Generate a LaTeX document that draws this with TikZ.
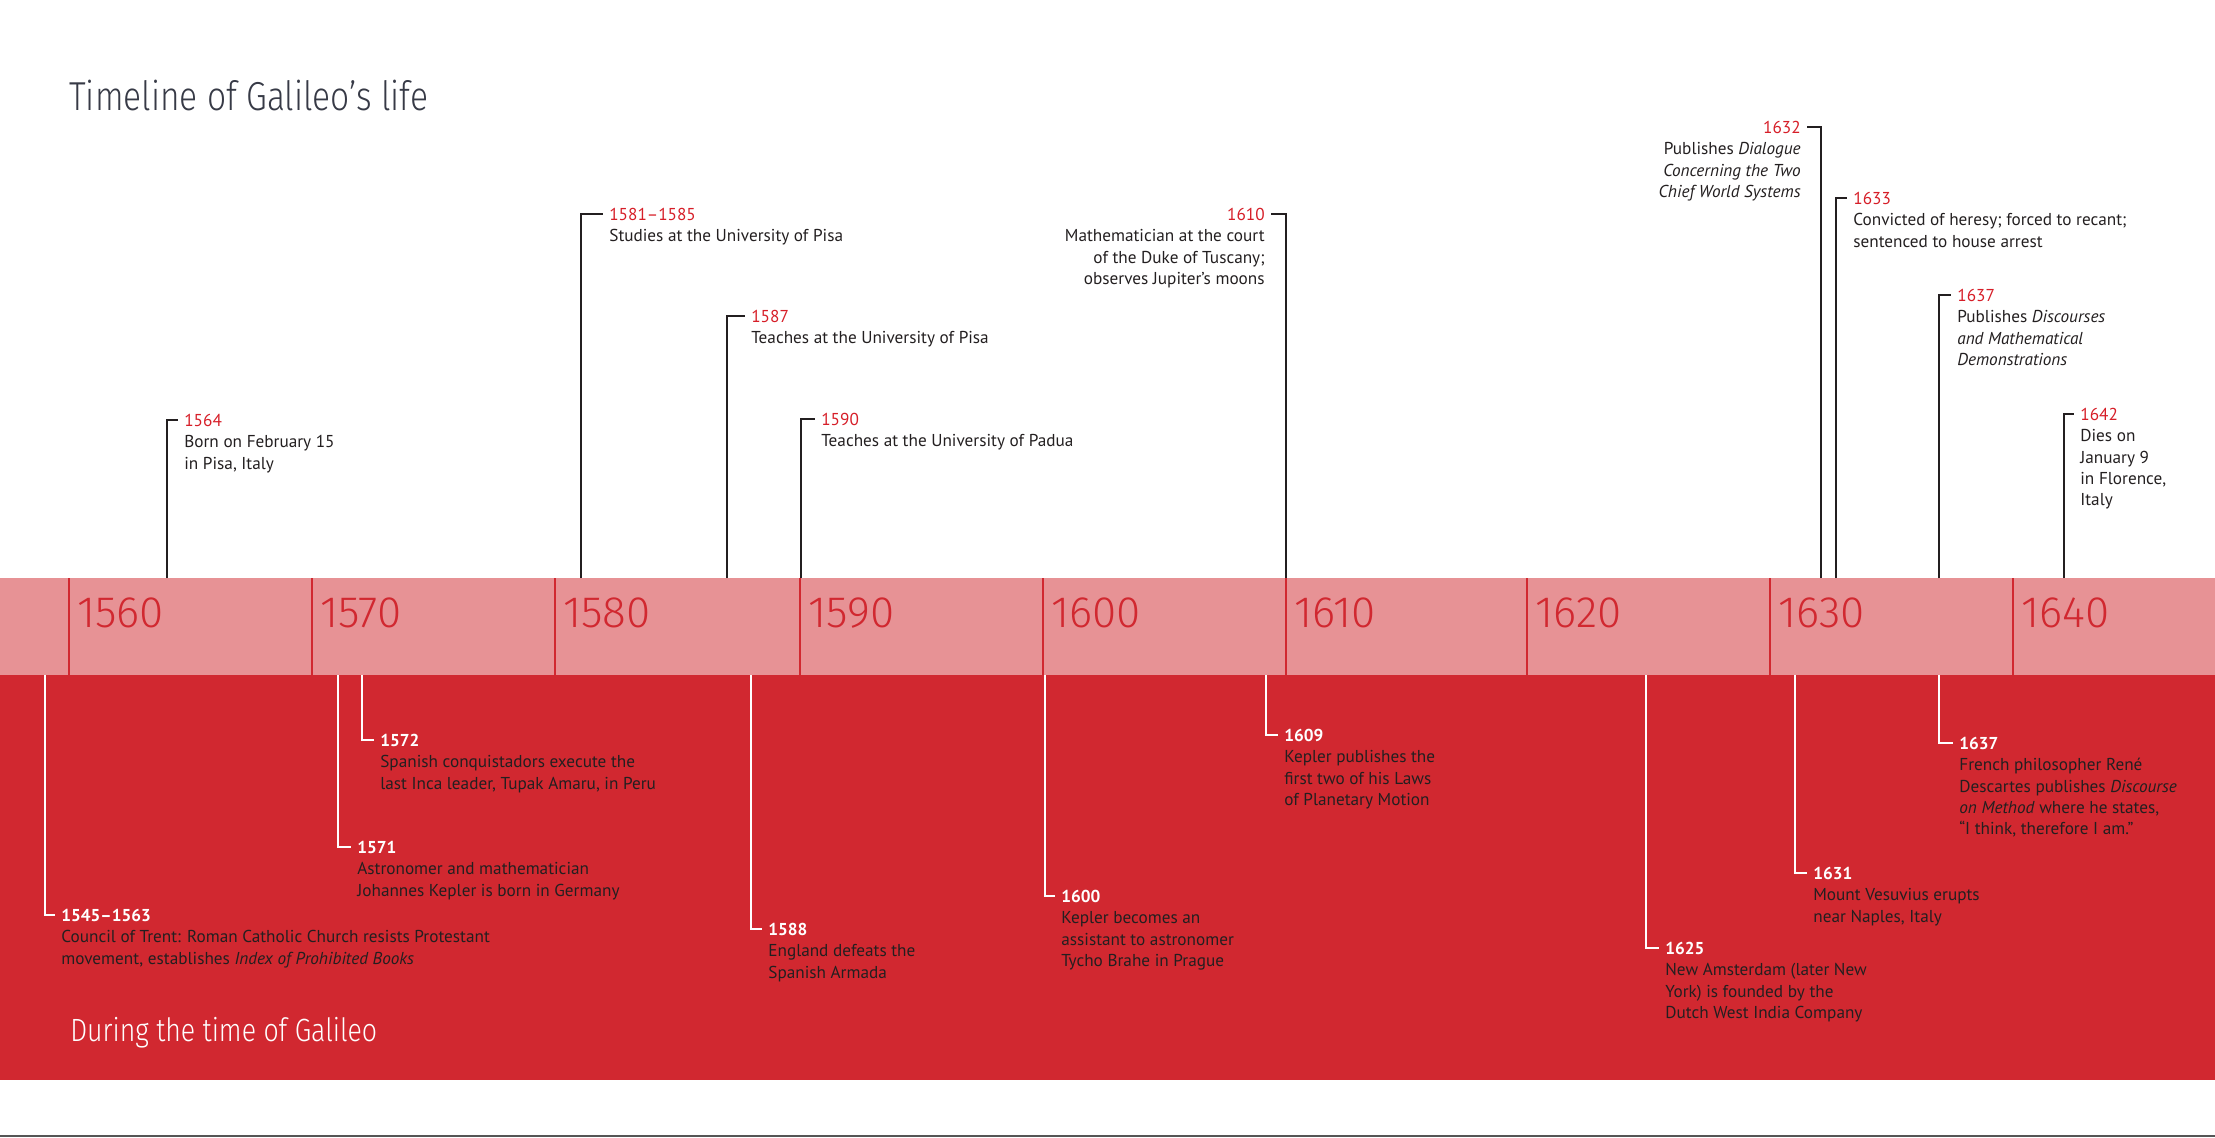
\documentclass[tikz,border=0pt]{standalone}
\usepackage{fontspec}
\setmainfont{PT Sans}
\newfontfamily\titlefont{Fira Sans Light}[FakeStretch=0.83]
\newfontfamily\decfont{Fira Sans Light}
\usepackage{xcolor}
\usepackage{tikz}
\usetikzlibrary{positioning}
\definecolor{bandpink}{RGB}{231,146,149}
\definecolor{fieldred}{RGB}{209,40,48}
\definecolor{yearred}{RGB}{214,30,40}
\definecolor{ink}{RGB}{35,31,32}
\definecolor{titlegray}{RGB}{55,58,70}
\definecolor{rulegray}{RGB}{85,85,85}
\newcommand{\evfont}{\fontsize{9.8}{12.1}\selectfont}
\tikzset{
  evyear/.style={inner sep=0pt, font=\evfont},
  yrup/.style={evyear, text=yearred, anchor=west},
  yrupl/.style={evyear, text=yearred, anchor=east},
  yrdown/.style={evyear, font=\evfont\bfseries, text=white, anchor=west},
  evtext/.style={inner sep=0pt, font=\evfont, text=ink, align=left},
  evtextl/.style={evtext, align=right},
  leadup/.style={draw=ink, line width=0.7pt, shorten >=0.12cm},
  leaddown/.style={draw=white, line width=0.7pt, shorten >=0.12cm},
  decade/.style={font=\decfont\fontsize{25}{25}\selectfont, text=fieldred,
                 inner sep=0pt, anchor=base west},
  decsep/.style={draw=fieldred, line width=0.9pt},
  headline/.style={font=\titlefont\fontsize{23}{23}\selectfont, inner sep=0pt,
                   anchor=base west},
}

\begin{document}
\begin{tikzpicture}[x=0.02cm, y=-0.02cm]
  \useasboundingbox (0,0) rectangle (2215,1137);
  % bands
  \fill[bandpink] (0,578) rectangle (2215,675);
  \fill[fieldred] (0,675) rectangle (2215,1080);
  \draw[rulegray, line width=1.1pt] (0,1136) -- (2215,1136);

  \node[headline, text=titlegray] (title) at (69,110) {Timeline of Galileo’s life};
  \node[headline, text=white, font=\titlefont\fontsize{18.3}{18.3}\selectfont] (world) at (70,1041) {During the time of Galileo};

  % decades
  \draw[decsep] (69,578) -- (69,675);
  \draw[decsep] (312,578) -- (312,675);
  \draw[decsep] (555,578) -- (555,675);
  \draw[decsep] (800,578) -- (800,675);
  \draw[decsep] (1043,578) -- (1043,675);
  \draw[decsep] (1286,578) -- (1286,675);
  \draw[decsep] (1527,578) -- (1527,675);
  \draw[decsep] (1770,578) -- (1770,675);
  \draw[decsep] (2013,578) -- (2013,675);
  \node[decade] (d1560) at (77,627) {1560};
  \node[decade] (d1570) at (320,627) {1570};
  \node[decade] (d1580) at (563,627) {1580};
  \node[decade] (d1590) at (808,627) {1590};
  \node[decade] (d1600) at (1051,627) {1600};
  \node[decade] (d1610) at (1294,627) {1610};
  \node[decade] (d1620) at (1535,627) {1620};
  \node[decade] (d1630) at (1778,627) {1630};
  \node[decade] (d1640) at (2021,627) {1640};

  % Galileo, above the band
  \coordinate (gl1564) at (167,578);
  \node[yrup] (g1564) at (184,420) {1564};
  \node[evtext, below right=0.12cm and 0cm of g1564.south west] (gt1564) {\strut Born on February 15\\in Pisa, Italy};
  \draw[leadup] (gl1564) |- (g1564);

  \coordinate (gl1581) at (581,578);
  \node[yrup] (g1581) at (609,214) {1581–1585};
  \node[evtext, below right=0.12cm and 0cm of g1581.south west] (gt1581) {\strut Studies at the University of Pisa};
  \draw[leadup] (gl1581) |- (g1581);

  \coordinate (gl1587) at (727,578);
  \node[yrup] (g1587) at (751,316) {1587};
  \node[evtext, below right=0.12cm and 0cm of g1587.south west] (gt1587) {\strut Teaches at the University of Pisa};
  \draw[leadup] (gl1587) |- (g1587);

  \coordinate (gl1590) at (801,578);
  \node[yrup] (g1590) at (821,419) {1590};
  \node[evtext, below right=0.12cm and 0cm of g1590.south west] (gt1590) {\strut Teaches at the University of Padua};
  \draw[leadup] (gl1590) |- (g1590);

  \coordinate (gl1610) at (1286,578);
  \node[yrupl] (g1610) at (1265,214) {1610};
  \node[evtextl, below left=0.12cm and 0cm of g1610.south east] (gt1610) {\strut Mathematician at the court\\of the Duke of Tuscany;\\observes Jupiter’s moons};
  \draw[leadup] (gl1610) |- (g1610);

  \coordinate (gl1632) at (1821,578);
  \node[yrupl] (g1632) at (1801,127) {1632};
  \node[evtextl, below left=0.12cm and 0cm of g1632.south east] (gt1632) {\strut Publishes \textit{Dialogue}\\\textit{Concerning the Two}\\\textit{Chief World Systems}};
  \draw[leadup] (gl1632) |- (g1632);

  \coordinate (gl1633) at (1836,578);
  \node[yrup] (g1633) at (1853,198) {1633};
  \node[evtext, below right=0.12cm and 0cm of g1633.south west] (gt1633) {\strut Convicted of heresy; forced to recant;\\sentenced to house arrest};
  \draw[leadup] (gl1633) |- (g1633);

  \coordinate (gl1637) at (1939,578);
  \node[yrup] (g1637) at (1957,295) {1637};
  \node[evtext, below right=0.12cm and 0cm of g1637.south west] (gt1637) {\strut Publishes \textit{Discourses}\\\textit{and Mathematical}\\\textit{Demonstrations}};
  \draw[leadup] (gl1637) |- (g1637);

  \coordinate (gl1642) at (2064,578);
  \node[yrup] (g1642) at (2080,414) {1642};
  \node[evtext, below right=0.12cm and 0cm of g1642.south west] (gt1642) {\strut Dies on\\January 9\\in Florence,\\Italy};
  \draw[leadup] (gl1642) |- (g1642);

  % the world, below the band
  \coordinate (wl1545) at (45,675);
  \node[yrdown] (w1545) at (61,915) {1545–1563};
  \node[evtext, below right=0.12cm and 0cm of w1545.south west] (wt1545) {\strut Council of Trent: Roman Catholic Church resists Protestant\\movement, establishes \textit{Index of Prohibited Books}};
  \draw[leaddown] (wl1545) |- (w1545);

  \coordinate (wl1571) at (338,675);
  \node[yrdown] (w1571) at (357,847) {1571};
  \node[evtext, below right=0.12cm and 0cm of w1571.south west] (wt1571) {\strut Astronomer and mathematician\\Johannes Kepler is born in Germany};
  \draw[leaddown] (wl1571) |- (w1571);

  \coordinate (wl1572) at (362,675);
  \node[yrdown] (w1572) at (380,740) {1572};
  \node[evtext, below right=0.12cm and 0cm of w1572.south west] (wt1572) {\strut Spanish conquistadors execute the\\last Inca leader, Tupak Amaru, in Peru};
  \draw[leaddown] (wl1572) |- (w1572);

  \coordinate (wl1588) at (751,675);
  \node[yrdown] (w1588) at (768,929) {1588};
  \node[evtext, below right=0.12cm and 0cm of w1588.south west] (wt1588) {\strut England defeats the\\Spanish Armada};
  \draw[leaddown] (wl1588) |- (w1588);

  \coordinate (wl1600) at (1045,675);
  \node[yrdown] (w1600) at (1061,896) {1600};
  \node[evtext, below right=0.12cm and 0cm of w1600.south west] (wt1600) {\strut Kepler becomes an\\assistant to astronomer\\Tycho Brahe in Prague};
  \draw[leaddown] (wl1600) |- (w1600);

  \coordinate (wl1609) at (1266,675);
  \node[yrdown] (w1609) at (1284,735) {1609};
  \node[evtext, below right=0.12cm and 0cm of w1609.south west] (wt1609) {\strut Kepler publishes the\\first two of his Laws\\of Planetary Motion};
  \draw[leaddown] (wl1609) |- (w1609);

  \coordinate (wl1625) at (1646,675);
  \node[yrdown] (w1625) at (1665,948) {1625};
  \node[evtext, below right=0.12cm and 0cm of w1625.south west] (wt1625) {\strut New Amsterdam (later New\\York) is founded by the\\Dutch West India Company};
  \draw[leaddown] (wl1625) |- (w1625);

  \coordinate (wl1631) at (1795,675);
  \node[yrdown] (w1631) at (1813,873) {1631};
  \node[evtext, below right=0.12cm and 0cm of w1631.south west] (wt1631) {\strut Mount Vesuvius erupts\\near Naples, Italy};
  \draw[leaddown] (wl1631) |- (w1631);

  \coordinate (wl1637) at (1939,675);
  \node[yrdown] (w1637) at (1959,743) {1637};
  \node[evtext, below right=0.12cm and 0cm of w1637.south west] (wt1637) {\strut French philosopher René\\Descartes publishes \textit{Discourse}\\\textit{on Method} where he states,\\“I think, therefore I am.”};
  \draw[leaddown] (wl1637) |- (w1637);
\end{tikzpicture}
\end{document}
